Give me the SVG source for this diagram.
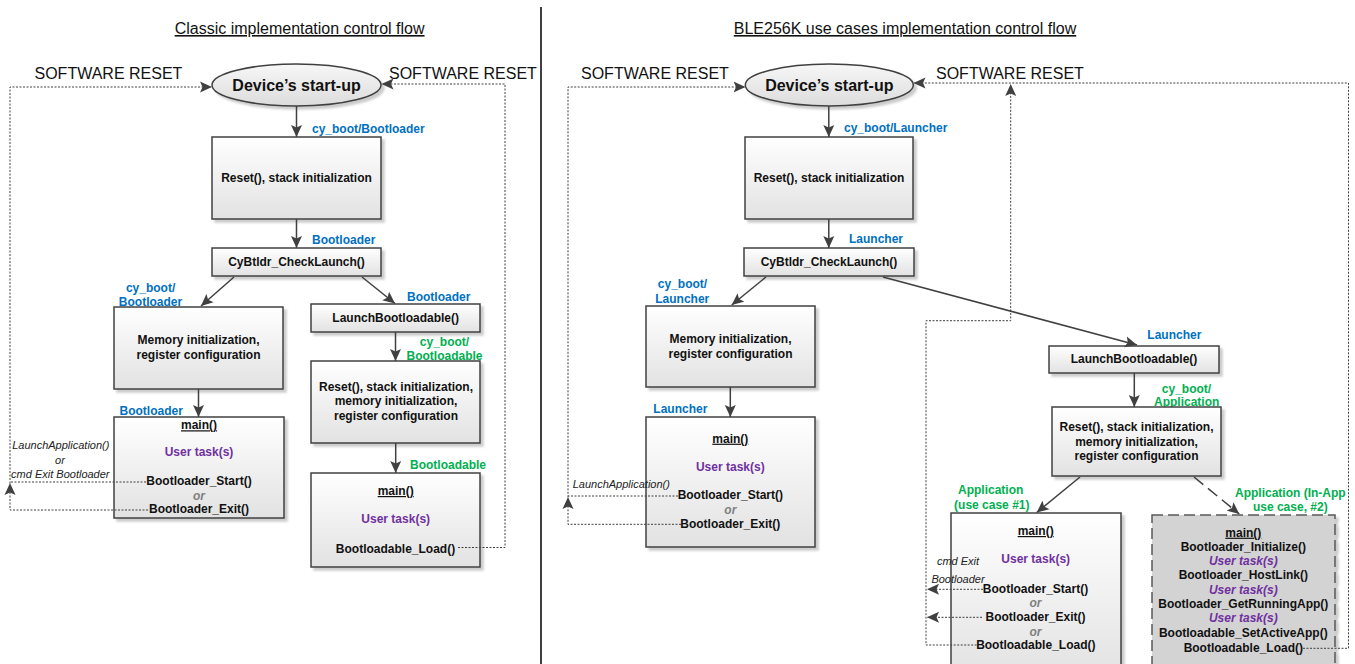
<svg xmlns="http://www.w3.org/2000/svg" width="1355" height="664" viewBox="0 0 1355 664">
<style>
.box{fill:url(#gb);stroke:#404040;stroke-width:1.5;filter:url(#sh)}
.box2{fill:#d3d3d3;stroke:#595959;stroke-width:1.5;stroke-dasharray:11,5;filter:url(#sh)}
.ell{fill:url(#ge);stroke:#404040;stroke-width:1.5;filter:url(#sh)}
text{font-family:"Liberation Sans",Arial,sans-serif}
.t{font-weight:bold;font-size:12px;fill:#111;text-anchor:middle}
.big{font-weight:bold;font-size:16px;fill:#111;text-anchor:middle}
.u{text-decoration:underline}
.pu{fill:#7030A0}
.or{fill:#808080;font-style:italic}
.pi{fill:#7030A0;font-style:italic}
.lb{font-weight:bold;font-size:12px;fill:#0070C0}
.lg{font-weight:bold;font-size:12px;fill:#00B050}
.it{font-style:italic;font-size:11px;fill:#222}
.hd{font-size:16px;fill:#111;text-anchor:middle;text-decoration:underline}
.sr{font-size:16px;fill:#111}
.ln{stroke:#404040;stroke-width:1.5;fill:none;marker-end:url(#ah)}
.lnd{stroke:#404040;stroke-width:1.5;fill:none;stroke-dasharray:12,6;marker-end:url(#ah)}
.dl{stroke:#404040;stroke-width:1;fill:none;stroke-dasharray:2,1.5}
.dla{stroke:#404040;stroke-width:1;fill:none;stroke-dasharray:2,1.5;marker-end:url(#ah)}
.ah{fill:#404040}
.mid{text-anchor:middle}
</style>
<defs>
<linearGradient id="gb" x1="0" y1="0" x2="0" y2="1"><stop offset="0" stop-color="#ffffff"/><stop offset="1" stop-color="#e2e2e2"/></linearGradient>
<linearGradient id="ge" x1="0" y1="0" x2="0" y2="1"><stop offset="0" stop-color="#f7f7f7"/><stop offset="1" stop-color="#dcdcdc"/></linearGradient>
<filter id="sh" x="-10%" y="-10%" width="130%" height="130%"><feDropShadow dx="3" dy="3" stdDeviation="1" flood-color="#000" flood-opacity="0.2"/></filter>
<marker id="ah" viewBox="0 0 12 12" refX="12" refY="6" markerWidth="12" markerHeight="12" markerUnits="userSpaceOnUse" orient="auto"><path d="M0,0.5 L12,6 L0,11.5 L2.5,6 Z" fill="#404040"/></marker>
</defs>
<rect width="1355" height="664" fill="#ffffff"/>

<g id="titles">
<text class="hd" x="299.6" y="34">Classic implementation control flow</text>
<text class="hd" x="905" y="34">BLE256K use cases implementation control flow</text>
<text class="sr" x="34.5" y="79">SOFTWARE RESET</text>
<text class="sr" x="389" y="79">SOFTWARE RESET</text>
<text class="sr" x="581" y="79">SOFTWARE RESET</text>
<text class="sr" x="936" y="79">SOFTWARE RESET</text>
</g>
<line id="divider" x1="541" y1="7" x2="541" y2="664" stroke="#404040" stroke-width="2"/>

<g id="edge-labels">
<text class="lb" x="312" y="133">cy_boot/Bootloader</text>
<text class="lb" x="312" y="244">Bootloader</text>
<text class="lb mid" x="150.6" y="291.7">cy_boot/</text>
<text class="lb mid" x="150.5" y="306">Bootloader</text>
<text class="lb" x="407" y="300.7">Bootloader</text>
<text class="lb" x="119.5" y="415">Bootloader</text>
<text class="lg mid" x="444.5" y="346">cy_boot/</text>
<text class="lg mid" x="444.5" y="360">Bootloadable</text>
<text class="lg" x="410" y="469">Bootloadable</text>
<text class="lb" x="844" y="132">cy_boot/Launcher</text>
<text class="lb" x="849" y="243.3">Launcher</text>
<text class="lb mid" x="682.5" y="288.3">cy_boot/</text>
<text class="lb mid" x="682.3" y="303.3">Launcher</text>
<text class="lb" x="653.3" y="413.3">Launcher</text>
<text class="lb" x="1147.3" y="339.3">Launcher</text>
<text class="lg mid" x="1186.5" y="392.7">cy_boot/</text>
<text class="lg mid" x="1186.7" y="406">Application</text>
<text class="lg mid" x="990.7" y="494">Application</text>
<text class="lg mid" x="991.8" y="509">(use case #1)</text>
<text class="lg mid" x="1290.3" y="497.3">Application (In-App</text>
<text class="lg mid" x="1290.3" y="511">use case, #2)</text>
</g>

<g id="n-start-l"><ellipse class="ell" cx="296.5" cy="85" rx="84.5" ry="21"/><text class="big" x="296.5" y="91">Device’s start-up</text></g>
<g id="n-reset-l"><rect class="box" x="212" y="137" width="169" height="82"/><text class="t" x="296.5" y="182">Reset(), stack initialization</text></g>
<g id="n-check-l"><rect class="box" x="212" y="248" width="169" height="28"/><text class="t" x="296.5" y="266">CyBtldr_CheckLaunch()</text></g>
<g id="n-mem-l"><rect class="box" x="114" y="307" width="169" height="82"/><text class="t" x="198.5" y="344">Memory initialization,</text><text class="t" x="198.5" y="358.7">register configuration</text></g>
<g id="n-main-l"><rect class="box" x="114" y="417" width="170" height="101"/>
<text class="t u" x="199" y="429.3">main()</text>
<text class="t pu" x="199" y="456">User task(s)</text>
<text class="t" x="199" y="485">Bootloader_Start()</text>
<text class="t or" x="199" y="500">or</text>
<text class="t" x="199" y="513.3">Bootloader_Exit()</text>
<text class="it mid" x="60.8" y="449">LaunchApplication()</text>
<text class="it mid" x="60" y="464">or</text>
<text class="it mid" x="60.3" y="477.7">cmd Exit Bootloader</text>
</g>
<g id="n-launch-l"><rect class="box" x="311" y="304" width="169" height="28"/><text class="t" x="395.7" y="322">LaunchBootloadable()</text></g>
<g id="n-reset2-l"><rect class="box" x="311" y="361" width="169" height="82"/><text class="t" x="396" y="390.7">Reset(), stack initialization,</text><text class="t" x="396" y="405.3">memory initialization,</text><text class="t" x="396" y="420">register configuration</text></g>
<g id="n-main2-l"><rect class="box" x="311" y="473" width="169" height="94"/>
<text class="t u" x="395.7" y="495">main()</text>
<text class="t pu" x="395.7" y="523.3">User task(s)</text>
<text class="t" x="395.5" y="552.7">Bootloadable_Load()</text>
</g>

<g id="n-start-r"><ellipse class="ell" cx="829.3" cy="85" rx="84" ry="21"/><text class="big" x="829.3" y="91">Device’s start-up</text></g>
<g id="n-reset-r"><rect class="box" x="745" y="137" width="168" height="82"/><text class="t" x="829" y="182">Reset(), stack initialization</text></g>
<g id="n-check-r"><rect class="box" x="744" y="248" width="170" height="28"/><text class="t" x="829" y="266">CyBtldr_CheckLaunch()</text></g>
<g id="n-mem-r"><rect class="box" x="646" y="306" width="169" height="81"/><text class="t" x="730.5" y="342.7">Memory initialization,</text><text class="t" x="730.5" y="357.7">register configuration</text></g>
<g id="n-main-r"><rect class="box" x="646" y="417" width="169" height="130"/>
<text class="t u" x="730.3" y="442.7">main()</text>
<text class="t pu" x="730.3" y="471">User task(s)</text>
<text class="t" x="730.3" y="499.3">Bootloader_Start()</text>
<text class="t or" x="730.3" y="514.3">or</text>
<text class="t" x="730.3" y="528.3">Bootloader_Exit()</text>
<text class="it" x="572.7" y="488.3">LaunchApplication()</text>
</g>
<g id="n-launch-r"><rect class="box" x="1049" y="346" width="170" height="27"/><text class="t" x="1134" y="363.3">LaunchBootloadable()</text></g>
<g id="n-reset2-r"><rect class="box" x="1052" y="407" width="169" height="69"/><text class="t" x="1136.5" y="431">Reset(), stack initialization,</text><text class="t" x="1136.5" y="446">memory initialization,</text><text class="t" x="1136.5" y="460">register configuration</text></g>
<g id="n-uc1"><rect class="box" x="951" y="513" width="170" height="165"/>
<text class="t u" x="1035.7" y="535">main()</text>
<text class="t pu" x="1035.7" y="563.3">User task(s)</text>
<text class="it mid" x="958" y="565">cmd Exit</text>
<text class="it mid" x="958" y="582.7">Bootloader</text>
<text class="t" x="1035.5" y="592.7">Bootloader_Start()</text>
<text class="t or" x="1035.5" y="606.7">or</text>
<text class="t" x="1035.5" y="620.7">Bootloader_Exit()</text>
<text class="t or" x="1035.5" y="635.7">or</text>
<text class="t" x="1035.8" y="649.3">Bootloadable_Load()</text>
</g>
<g id="n-uc2"><rect class="box2" x="1152" y="515" width="183" height="165"/>
<text class="t u" x="1243.3" y="536.7">main()</text>
<text class="t" x="1243.3" y="551">Bootloader_Initialize()</text>
<text class="t pi" x="1243.3" y="565">User task(s)</text>
<text class="t" x="1243.3" y="579.3">Bootloader_HostLink()</text>
<text class="t pi" x="1243.3" y="594">User task(s)</text>
<text class="t" x="1243.3" y="608.3">Bootloader_GetRunningApp()</text>
<text class="t pi" x="1243.3" y="622.3">User task(s)</text>
<text class="t" x="1243.3" y="637.3">Bootloadable_SetActiveApp()</text>
<text class="t" x="1243.3" y="651.7">Bootloadable_Load()</text>
</g>

<g id="connectors">
<path class="ln" d="M296.5,106 V137"/>
<path class="ln" d="M296.5,219 V248"/>
<path class="ln" d="M234,277 L201,306"/>
<path class="ln" d="M362,277 L395,303.5"/>
<path class="ln" d="M198.5,389 V417"/>
<path class="ln" d="M395.5,332 V361"/>
<path class="ln" d="M395.7,443 V473"/>
<path class="dl" d="M146,482 H10"/>
<polygon class="ah" points="10,483 4.5,495 10,492.5 15.5,495"/>
<path class="dla" d="M148,510 H10 V87 H212"/>
<path class="dla" d="M458,547.5 H505 V84 H381.5"/>

<path class="ln" d="M828.8,106 V137"/>
<path class="ln" d="M828.8,219 V248"/>
<path class="ln" d="M766,277 L731.7,305"/>
<path class="ln" d="M883,277 L1137,345"/>
<path class="ln" d="M730.3,387 V417"/>
<path class="ln" d="M1134.3,373 V407"/>
<path class="ln" d="M1080,477 L1036.7,512.5"/>
<path class="lnd" d="M1194,477 L1239.3,514"/>
<path class="dl" d="M678,496 H568"/>
<polygon class="ah" points="568,497 562.5,509 568,506.5 573.5,509"/>
<path class="dla" d="M681,524.3 H568 V87 H745.5"/>
<path class="dla" d="M1303,648.3 H1348.5 V83 H913.5"/>
<path class="dla" d="M976.7,645 H926 V320.7 H1010.7 V84"/>
<path class="dla" d="M983,589.3 H927"/>
<path class="dla" d="M982,617.3 H927"/>
</g>
</svg>
